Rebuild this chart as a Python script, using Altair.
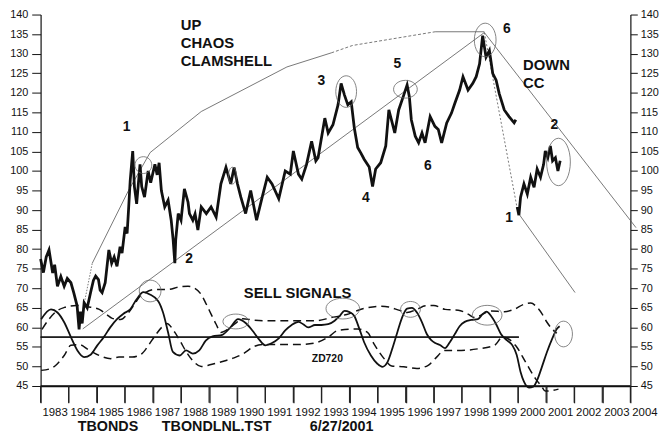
import altair as alt
import pandas as pd

FONT = "Liberation Sans"
INK = "#111111"
THIN = "#555555"

# ---------------- data ----------------
# TBONDS price, first segment (1983 - end 1999)
p1_year = [1983.00, 1983.10, 1983.20, 1983.30, 1983.43, 1983.50, 1983.60, 1983.72, 1983.84, 1983.95,
           1984.08, 1984.18, 1984.30, 1984.37, 1984.42, 1984.48, 1984.55, 1984.66, 1984.78, 1984.88,
           1984.96, 1985.06, 1985.12, 1985.19, 1985.30, 1985.43, 1985.53, 1985.62, 1985.72, 1985.83,
           1985.90, 1986.01, 1986.08, 1986.13, 1986.19, 1986.28, 1986.34, 1986.42, 1986.54, 1986.60,
           1986.70, 1986.83, 1986.92, 1987.07, 1987.15, 1987.22, 1987.30, 1987.42, 1987.54, 1987.65,
           1987.72, 1987.78, 1987.81, 1987.90, 1988.00, 1988.12, 1988.25, 1988.30, 1988.42, 1988.50,
           1988.60, 1988.72, 1988.90, 1989.07, 1989.25, 1989.42, 1989.60, 1989.77, 1989.89, 1990.01,
           1990.13, 1990.30, 1990.48, 1990.69, 1990.89, 1991.07, 1991.24, 1991.48, 1991.71, 1991.89,
           1992.00, 1992.18, 1992.30, 1992.47, 1992.65, 1992.80, 1992.88, 1993.12, 1993.24, 1993.41,
           1993.59, 1993.70, 1993.82, 1993.94, 1994.06, 1994.17, 1994.29, 1994.41, 1994.52, 1994.70,
           1994.82, 1994.93, 1995.11, 1995.29, 1995.40, 1995.52, 1995.61, 1995.75, 1995.93, 1996.05,
           1996.13, 1996.20, 1996.34, 1996.46, 1996.58, 1996.69, 1996.87, 1997.04, 1997.16, 1997.28,
           1997.46, 1997.63, 1997.75, 1997.92, 1998.04, 1998.22, 1998.39, 1998.51, 1998.63, 1998.74,
           1998.86, 1998.98, 1999.10, 1999.22, 1999.33, 1999.51, 1999.68, 1999.86, 1999.92]
p1_val = [77.5, 74.0, 78.0, 79.8, 73.9, 76.0, 70.5, 73.0, 70.5, 72.5,
          71.4, 68.9, 65.5, 59.5, 64.0, 61.0, 66.3, 65.0, 68.9, 72.0,
          73.1, 72.2, 69.5, 68.9, 71.4, 79.8, 76.4, 78.0, 75.6, 80.6,
          79.0, 85.7, 84.0, 89.9, 97.5, 105.1, 96.0, 91.6, 101.7, 96.0,
          93.3, 100.0, 97.0, 101.7, 99.0, 102.1, 95.0, 90.8, 92.5, 87.4,
          82.3, 76.4, 82.3, 89.1, 87.4, 95.4, 92.0, 89.1, 87.4, 89.0,
          84.9, 90.8, 89.1, 90.8, 88.2, 96.7, 100.9, 96.7, 100.9, 96.7,
          93.3, 89.1, 95.0, 87.4, 93.3, 98.4, 96.7, 92.9, 100.0, 99.2,
          105.1, 99.2, 97.9, 101.7, 107.6, 102.6, 103.4, 113.5, 109.7, 111.8,
          116.9, 122.4, 119.4, 116.9, 117.7, 111.0, 106.0, 104.5, 103.0, 101.0,
          96.0, 100.5, 102.1, 106.4, 115.6, 112.3, 109.7, 115.6, 119.4, 122.0,
          119.0, 113.1, 108.9, 107.2, 109.7, 107.2, 113.9, 111.4, 110.6, 107.2,
          112.3, 114.8, 117.3, 120.7, 124.1, 120.7, 122.4, 124.1, 127.4, 134.6,
          129.1, 130.8, 124.9, 123.2, 119.8, 115.6, 113.9, 112.3, 113.1]

# TBONDS price, second segment (2000 - mid 2001)
p2_year = [1999.97, 2000.03, 2000.09, 2000.21, 2000.33, 2000.45, 2000.57, 2000.68, 2000.80,
           2000.91, 2000.97, 2001.06, 2001.15, 2001.23, 2001.33, 2001.42, 2001.50]
p2_val = [90.8, 88.7, 93.3, 96.7, 94.1, 98.4, 95.8, 100.5, 98.4,
          101.7, 105.1, 103.4, 106.4, 102.6, 103.4, 100.0, 102.6]

# oscillator (solid)
osc_year = [1983.02, 1983.37, 1983.60, 1983.84, 1984.08, 1984.31, 1984.55, 1984.78, 1985.02, 1985.25,
            1985.48, 1985.72, 1985.95, 1986.19, 1986.42, 1986.66, 1986.89, 1987.19, 1987.36, 1987.54,
            1987.71, 1987.95, 1988.18, 1988.42, 1988.65, 1988.88, 1989.12, 1989.47, 1989.76, 1990.03,
            1990.30, 1990.54, 1990.77, 1991.00, 1991.24, 1991.48, 1991.71, 1991.94, 1992.18, 1992.35,
            1992.53, 1992.77, 1993.00, 1993.24, 1993.47, 1993.65, 1993.82, 1994.00, 1994.17, 1994.35,
            1994.52, 1994.76, 1994.99, 1995.17, 1995.35, 1995.52, 1995.70, 1995.87, 1996.05, 1996.22,
            1996.40, 1996.58, 1996.75, 1996.90, 1997.05, 1997.22, 1997.40, 1997.57, 1997.75, 1997.92,
            1998.10, 1998.34, 1998.57, 1998.74, 1998.88, 1999.04, 1999.22, 1999.39, 1999.62, 1999.80,
            1999.95, 2000.09, 2000.21, 2000.39, 2000.54, 2000.68, 2000.85, 2001.03, 2001.21, 2001.38,
            2001.48]
osc_val = [62.1, 64.6, 63.8, 61.3, 57.5, 54.1, 52.4, 53.0, 55.4, 57.5,
           60.0, 62.1, 63.5, 64.6, 67.2, 69.0, 68.4, 66.7, 63.8, 58.7,
           53.7, 52.8, 54.1, 53.3, 54.1, 56.6, 57.7, 58.1, 60.0, 62.1,
           61.1, 59.2, 57.0, 55.4, 56.0, 57.2, 59.2, 60.6, 61.4, 60.8,
           60.0, 60.6, 60.6, 60.8, 61.7, 62.9, 64.2, 63.9, 62.9, 59.6,
           56.2, 52.8, 50.7, 49.9, 51.1, 54.5, 58.7, 62.5, 64.8, 65.0,
           63.8, 61.3, 58.3, 56.8, 56.0, 55.5, 54.7, 56.2, 58.3, 60.3,
           61.4, 61.9, 62.1, 63.4, 64.0, 62.9, 60.8, 58.3, 56.6, 55.4,
           53.0, 48.6, 46.1, 44.6, 44.8, 46.5, 49.9, 53.7, 57.0, 59.6,
           60.3]

# upper dashed band
up_year = [1983.05, 1983.30, 1983.60, 1983.85, 1984.27, 1984.62, 1985.09, 1985.35, 1985.55, 1985.85,
           1986.10, 1986.35, 1986.55, 1986.73, 1987.08, 1987.55, 1987.90, 1988.25, 1988.49, 1988.72,
           1988.90, 1989.07, 1989.25, 1989.42, 1989.60, 1989.90, 1990.20, 1990.54, 1991.00, 1991.60,
           1992.20, 1992.80, 1993.35, 1993.90, 1994.50, 1995.10, 1995.40, 1995.75, 1996.05, 1996.40,
           1996.70, 1997.00, 1997.40, 1997.87, 1998.22, 1998.45, 1998.70, 1999.04, 1999.51, 1999.86,
           2000.21, 2000.45, 2000.68, 2000.86, 2001.03, 2001.21, 2001.38]
up_val = [59.5, 62.1, 64.3, 65.1, 65.6, 65.3, 64.6, 63.3, 62.3, 62.0,
          63.5, 66.0, 68.0, 68.9, 69.7, 69.7, 70.3, 70.5, 70.0, 68.4,
          65.9, 63.4, 60.8, 58.7, 59.2, 60.8, 62.2, 61.9, 61.7, 61.7,
          61.7, 61.7, 62.5, 63.3, 64.8, 65.4, 65.2, 64.4, 63.8, 64.6,
          65.5, 65.6, 64.6, 64.4, 63.4, 62.5, 63.2, 64.2, 64.0, 64.6,
          65.9, 66.2, 65.1, 63.4, 61.3, 59.6, 58.5]

# lower dashed band
lo_year = [1983.02, 1983.37, 1983.60, 1983.84, 1984.08, 1984.38, 1984.70, 1985.09, 1985.50, 1985.79,
           1986.26, 1986.61, 1986.84, 1987.08, 1987.31, 1987.49, 1987.78, 1987.96, 1988.19, 1988.43,
           1988.72, 1989.07, 1989.54, 1989.89, 1990.25, 1990.60, 1990.90, 1991.60, 1992.20, 1992.77,
           1993.24, 1993.59, 1994.29, 1994.64, 1994.87, 1995.23, 1995.50, 1995.93, 1996.40, 1996.80,
           1997.05, 1997.40, 1997.98, 1998.57, 1999.16, 1999.45, 1999.92, 2000.27, 2000.62, 2000.85,
           2000.97, 2001.44]
lo_val = [49.0, 49.5, 50.7, 52.8, 55.4, 55.6, 54.3, 52.8, 52.0, 52.4,
          52.4, 53.3, 55.4, 57.9, 60.0, 61.0, 58.7, 56.6, 53.7, 51.4,
          50.0, 50.5, 51.4, 52.2, 53.4, 55.1, 55.6, 55.6, 55.6, 56.0,
          57.5, 59.2, 59.6, 58.7, 55.8, 52.0, 50.1, 49.9, 49.5, 50.3,
          52.0, 54.1, 54.1, 54.5, 55.4, 57.5, 55.3, 51.1, 46.9, 44.8,
          43.7, 44.2]

# horizontal signal level
level_year = [1983.0, 2000.03]
level_val = [57.5, 57.5]

# chaos clamshell construction lines
apex = (1998.8, 135.4)
clam_dot_year, clam_dot_val = [1984.37, 1984.84], [59.6, 76.4]
clam_a_year = [1984.84, 1986.13, 1986.9, 1988.72, 1991.77, 1993.35]
clam_a_val = [76.4, 95.0, 104.7, 115.2, 126.6, 130.2]
clam_b_year, clam_b_val = [1993.35, 1994.11, 1997.05], [130.2, 132.1, 135.6]
clam_c_year, clam_c_val = [1997.05, 1998.8], [135.6, 135.6]
trend_up_year, trend_up_val = [1984.5, apex[0]], [59.6, apex[1]]
down1_year, down1_val = [apex[0], 2004.2], [apex[1], 85.5]
down2_dot_year, down2_dot_val = [apex[0], 1999.98], [apex[1], 90.0]
down2_year, down2_val = [2000.03, 2002.03], [89.0, 68.9]

# circled spots: year, value
circ_year = [1986.66, 1989.83, 1993.88, 1995.99, 1998.83, 2001.44,
             1986.90, 1989.95, 1993.76, 1996.17, 1998.90, 2001.62]
circ_val = [101.5, 98.8, 120.3, 120.9, 133.5, 102.3,
            69.3, 61.5, 64.8, 64.6, 63.1, 58.3]
# ellipse half-axes in pixels (style)
circ_rx = [8.5, 4.0, 10.5, 12.0, 11.0, 12.0, 11.0, 13.0, 17.0, 10.0, 15.0, 9.0]
circ_ry = [8.5, 8.5, 16.0, 9.0, 17.0, 24.0, 11.0, 7.5, 10.5, 8.0, 10.0, 13.0]

# annotation texts
big_text = ["UP", "CHAOS", "CLAMSHELL", "DOWN", "CC", "SELL SIGNALS"]
big_year = [1987.99, 1987.99, 1987.99, 2000.18, 2000.18, 1992.15]
big_val = [137.2, 132.7, 128.0, 127.1, 122.5, 68.8]
big_align = ["left", "left", "left", "left", "left", "center"]

num_text = ["1", "2", "3", "4", "5", "6", "6", "2", "1"]
num_year = [1986.06, 1988.29, 1993.00, 1994.58, 1995.70, 1996.79, 1999.60, 2001.29, 1999.68]
num_val = [111.2, 77.5, 123.1, 93.0, 127.4, 101.3, 136.3, 111.7, 87.9]

small_text = ["ZD720"]
small_year = [1993.21]
small_val = [51.9]

foot_text = ["TBONDS", "TBONDLNL.TST", "6/27/2001"]
foot_year = [1985.40, 1989.27, 1993.72]

years = list(range(1983, 2005))
yticks = list(range(45, 141, 5))
x_lo, x_hi = 1983, 2004
y_lo, y_hi = 45, 140

# ---------------- chart ----------------
W, H = 597, 376
PX_Y = H / (y_hi - y_lo)
PX_X = W / (x_hi - x_lo)
xs = alt.Scale(domain=[x_lo, x_hi], nice=False, zero=False)
ys = alt.Scale(domain=[y_lo, y_hi], nice=False, zero=False)

x_axis = alt.Axis(values=years, format="d", title=None, grid=False, ticks=True, domain=True,
                  tickSize=17, tickColor="#222", tickWidth=1.2, domainColor=INK, domainWidth=1.5,
                  labelOffset=14.2, labelPadding=4, labelFontSize=11.5, labelFont=FONT,
                  labelColor=INK, labelFlush=False, labelOverlap=False)
y_left = alt.Axis(values=yticks, orient="left", title=None, grid=False, ticks=True, domain=True,
                  tickSize=9, tickColor=INK, tickWidth=1, domainColor=INK, domainWidth=1.2,
                  labelPadding=4, labelFontSize=11, labelFont=FONT, labelColor=INK,
                  labelOverlap=False, labelFlush=False)
y_right = alt.Axis(values=yticks, orient="right", title=None, grid=False, ticks=True, domain=True,
                   tickSize=7, tickColor=INK, tickWidth=1, domainColor=INK, domainWidth=1.2,
                   labelPadding=3, labelFontSize=11, labelFont=FONT, labelColor=INK,
                   labelOverlap=False, labelFlush=False)


def X(field="year"):
    return alt.X(f"{field}:Q", scale=xs, axis=x_axis)


def Y(axis=None, field="val"):
    return alt.Y(f"{field}:Q", scale=ys, axis=axis)


def df(yr, vl):
    return pd.DataFrame({"year": yr, "val": vl})


def line(yr, vl, color=INK, width=1.0, dash=None, interp="linear", yaxis=None):
    kw = dict(color=color, strokeWidth=width, interpolate=interp, clip=False)
    if dash:
        kw["strokeDash"] = dash
    return alt.Chart(df(yr, vl)).mark_line(**kw).encode(x=X(), y=Y(yaxis))


layers = []
layers.append(line(level_year, level_val, width=1.5, yaxis=y_left))
layers.append(line(level_year, level_val, width=1.5, yaxis=y_right))

# bottom axis line and year ticks (filled thin rects through the scales)
layers.append(line([x_lo, x_hi], [y_lo, y_lo], width=1.5))
half = 0.6 / PX_X
tick_df = pd.DataFrame({"year": [y - half for y in years], "year2": [y + half for y in years],
                        "val": [y_lo] * len(years), "val2": [y_lo - 17 / PX_Y] * len(years)})
layers.append(alt.Chart(tick_df).mark_rect(color="#222", clip=False).encode(
    x=X(), x2=alt.X2("year2:Q"), y=Y(), y2=alt.Y2("val2:Q")))

# clamshell lines
layers.append(line(clam_dot_year, clam_dot_val, color=THIN, width=0.8, dash=[1.5, 1.5]))
layers.append(line(clam_a_year, clam_a_val, color=THIN, width=0.8))
layers.append(line(clam_b_year, clam_b_val, color=THIN, width=0.8, dash=[3, 2]))
layers.append(line(clam_c_year, clam_c_val, color=THIN, width=0.8))
layers.append(line(trend_up_year, trend_up_val, color=THIN, width=0.8))
layers.append(line(down1_year, down1_val, color=THIN, width=0.8))
layers.append(line(down2_dot_year, down2_dot_val, color=THIN, width=0.8, dash=[2, 2]))
layers.append(line(down2_year, down2_val, color=THIN, width=0.8))

# oscillator & bands
layers.append(line(up_year, up_val, width=1.5, dash=[8, 5], interp="monotone"))
layers.append(line(lo_year, lo_val, width=1.5, dash=[8, 5], interp="monotone"))
layers.append(line(osc_year, osc_val, width=1.8, interp="monotone"))

# price
layers.append(line(p1_year, p1_val, width=2.8))
layers.append(line(p2_year, p2_val, width=2.8))

# ellipses
K = 0.5523


def ellipse_path(k):
    a, b = K, k * K
    return (f"M 1 0 C 1 {b:.4f} {a:.4f} {k:.4f} 0 {k:.4f} "
            f"C {-a:.4f} {k:.4f} -1 {b:.4f} -1 0 "
            f"C -1 {-b:.4f} {-a:.4f} {-k:.4f} 0 {-k:.4f} "
            f"C {a:.4f} {-k:.4f} 1 {-b:.4f} 1 0 Z")


circ = pd.DataFrame({
    "year": circ_year, "val": circ_val,
    "shape": [ellipse_path(ry / rx) for rx, ry in zip(circ_rx, circ_ry)],
    "sz": [(2 * rx) ** 2 for rx in circ_rx],
})
layers.append(alt.Chart(circ).mark_point(filled=False, color="#666666", strokeWidth=0.8, opacity=1,
                                         clip=False).encode(
    x=X(), y=Y(), shape=alt.Shape("shape:N", scale=None, legend=None),
    size=alt.Size("sz:Q", scale=None, legend=None)))

# texts
big = pd.DataFrame({"year": big_year, "val": big_val, "t": big_text, "al": big_align})
for al in ["left", "center"]:
    layers.append(alt.Chart(big[big.al == al]).mark_text(
        font=FONT, fontSize=15, fontWeight="bold", color=INK, align=al, baseline="middle").encode(
        x=X(), y=Y(), text="t:N"))

nums = pd.DataFrame({"year": num_year, "val": num_val, "t": num_text})
layers.append(alt.Chart(nums).mark_text(font=FONT, fontSize=14, fontWeight="bold", color=INK,
                                        align="center", baseline="middle").encode(
    x=X(), y=Y(), text="t:N"))

small = pd.DataFrame({"year": small_year, "val": small_val, "t": small_text})
layers.append(alt.Chart(small).mark_text(font=FONT, fontSize=10.5, fontWeight="bold", color=INK,
                                         align="center", baseline="middle").encode(
    x=X(), y=Y(), text="t:N"))

foot = pd.DataFrame({"year": foot_year, "t": foot_text})
layers.append(alt.Chart(foot).mark_text(font=FONT, fontSize=14.5, fontWeight="bold", color=INK,
                                        align="center", baseline="middle").encode(
    x=X(), y=alt.value(418), text="t:N"))

chart = alt.layer(*layers).resolve_axis(y="independent").properties(
    width=W, height=H,
    autosize=alt.AutoSizeParams(type="none"),
    padding={"left": 33, "top": 4, "right": 32, "bottom": 50},
    background="white",
).configure_view(stroke=None)

chart.save("out.html", embed_options={"renderer": "svg", "actions": False})
